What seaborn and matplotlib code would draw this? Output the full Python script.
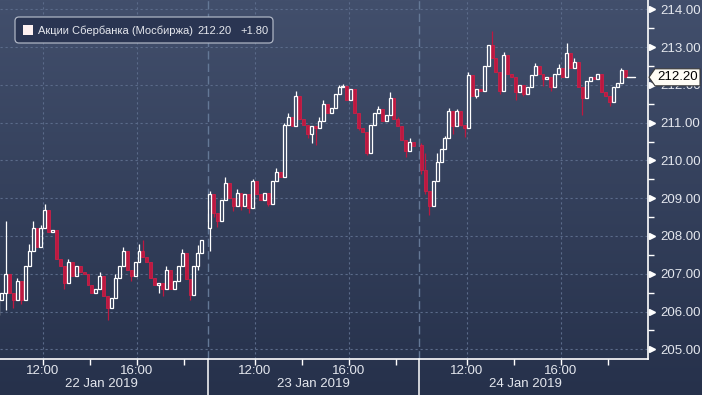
import numpy as np
import pandas as pd
import matplotlib
matplotlib.use("Agg")
import matplotlib.pyplot as plt
import matplotlib.transforms as mtransforms
from matplotlib.patches import FancyBboxPatch, Polygon, Rectangle
from matplotlib.colors import LinearSegmentedColormap
import seaborn as sns

# ---------------- data ----------------
dates = ["22 Jan 2019", "23 Jan 2019", "24 Jan 2019"]
time_labels = ["12:00", "16:00"]
y_ticks = [205, 206, 207, 208, 209, 210, 211, 212, 213, 214]
series_name = "Акции Сбербанка (Мосбиржа)"
last_price = 212.20
change = 1.80

day_open = [205.9, 208.2, 210.4]

closes_d1 = [206.3, 206.5, 207.0, 206.5, 206.3, 206.8, 206.3, 207.2, 207.6, 208.2,
             207.7, 208.2, 208.7, 208.1, 208.15, 207.4, 207.2, 206.75, 207.3, 206.95,
             207.2, 207.05, 207.0, 206.7, 206.5, 206.6, 206.95, 206.4, 206.1, 206.35,
             206.9, 207.2, 207.6, 207.1, 206.95, 207.3, 207.6, 207.45, 207.3, 206.9,
             206.7, 206.75, 206.6, 207.1, 206.6, 206.8, 207.2, 207.55, 206.85, 206.45,
             207.2, 207.55, 207.9]
highs_d1 = {2: 208.4, 5: 206.9, 8: 207.8, 9: 208.4, 11: 208.3, 12: 208.85, 13: 208.7,
            18: 207.4, 26: 207.05, 30: 207.0, 32: 207.7, 36: 207.8, 37: 207.9,
            43: 207.2, 47: 207.65, 51: 207.75}
lows_d1 = {0: 205.6, 2: 206.05, 4: 206.1, 6: 206.2, 17: 206.6, 28: 205.78, 34: 206.8,
           41: 206.5, 42: 206.4, 49: 206.3, 51: 207.1}

closes_d2 = [209.1, 208.6, 208.4, 208.95, 209.4, 209.0, 208.8, 209.15, 208.8, 209.1,
             208.75, 209.45, 209.1, 208.95, 209.15, 208.85, 209.45, 209.7, 209.55, 210.95,
             211.15, 210.9, 211.7, 211.1, 210.95, 210.7, 210.9, 210.85, 211.05, 211.5,
             211.25, 211.4, 211.75, 211.95, 211.97, 211.6, 211.9, 211.25, 210.85, 210.75,
             210.2, 210.95, 211.25, 211.35, 211.05, 211.2, 211.65, 211.1, 210.9, 210.55,
             210.25, 210.5, 210.37]
highs_d2 = {0: 209.2, 4: 209.55, 7: 209.25, 11: 209.5, 17: 209.8, 19: 211.0, 20: 211.25,
            22: 211.85, 28: 211.15, 29: 211.6, 33: 212.0, 34: 212.03, 43: 211.45,
            46: 211.8, 48: 211.15, 51: 210.6}
lows_d2 = {0: 207.6, 1: 208.5, 2: 208.25, 6: 208.65, 8: 208.7, 10: 208.6, 15: 208.8,
           25: 210.6, 26: 210.45, 27: 210.4, 38: 210.8, 40: 210.15, 50: 210.1}

closes_d3 = [209.75, 209.2, 208.8, 209.45, 209.95, 210.3, 210.6, 211.3, 210.9, 211.3,
             210.95, 210.85, 212.25, 211.7, 211.9, 211.85, 212.5, 213.05, 212.7, 212.35,
             211.85, 212.8, 212.3, 212.2, 211.8, 212.0, 211.75, 211.95, 212.25, 212.5,
             212.3, 212.15, 212.2, 211.95, 212.3, 212.45, 212.2, 212.85, 212.45, 212.6,
             211.95, 211.65, 212.1, 212.2, 212.15, 212.3, 211.8, 211.7, 211.55, 211.95,
             212.05, 212.4, 212.2]
highs_d3 = {0: 210.45, 1: 210.2, 4: 210.2, 6: 210.65, 7: 211.4, 9: 211.37, 12: 212.35,
            18: 213.42, 21: 212.87, 29: 212.57, 35: 212.55, 37: 213.12, 39: 212.7,
            51: 212.45}
lows_d3 = {0: 209.65, 1: 209.1, 2: 208.55, 8: 210.7, 10: 210.9, 11: 210.63, 14: 211.65,
           20: 211.75, 24: 211.6, 26: 211.7, 31: 211.98, 33: 211.85, 41: 211.2, 48: 211.45}

# build OHLC table (10-minute bars, x in trading hours since 22 Jan 10:00, 9h per day)
rows = []
for d, (cl, hi, lo) in enumerate([(closes_d1, highs_d1, lows_d1),
                                  (closes_d2, highs_d2, lows_d2),
                                  (closes_d3, highs_d3, lows_d3)]):
    prev = day_open[d]
    for i, c in enumerate(cl):
        o = prev
        rows.append(dict(t=d * 9 + (i + 0.5) / 6, open=o, close=c,
                         high=max(o, c, hi.get(i, c)), low=min(o, c, lo.get(i, c))))
        prev = c
df = pd.DataFrame(rows)

# ---------------- style ----------------
sns.set_theme(style="dark")
plt.rcParams['font.family'] = ['Liberation Sans', 'DejaVu Sans']

W, H = 702, 395
fig = plt.figure(figsize=(W / 100, H / 100), dpi=100)

bg = fig.add_axes([0, 0, 1, 1])
grad = np.linspace(0, 1, 256).reshape(-1, 1)
cmap = LinearSegmentedColormap.from_list('bg', ['#26314b', '#424f6c'])
bg.imshow(grad, aspect='auto', cmap=cmap, origin='lower', extent=[0, 1, 0, 1])
bg.set_axis_off()

ax = fig.add_axes([0, 36 / H, 648 / W, 359 / H])
ax.set_facecolor('none')
ax.set_xlim(0.178, 27.71)
ax.set_ylim(204.743, 214.246)

grid_c = '#5b6b8a'
for y in y_ticks:
    ax.axhline(y, color=grid_c, lw=0.8, ls=(0, (2, 2.5)), zorder=1)
major_x = [d * 9 + h for d in range(3) for h in (2, 6)]
minor_x = [d * 9 + h for d in range(3) for h in (4, 8)]
for x in major_x:
    ax.axvline(x, color=grid_c, lw=0.8, ls=(0, (2, 2.5)), zorder=1)
for s in (9, 18):
    ax.axvline(s, color='#647896', lw=1.0, ls=(0, (6, 3)), zorder=1)

# candles
red = '#bd1840'
w = 0.125
up = df[df.close >= df.open]
dn = df[df.close < df.open]
ax.vlines(dn.t, dn.low, dn.high, color=red, lw=0.9, zorder=3)
ax.bar(dn.t, dn.close - dn.open, bottom=dn.open, width=w, color=red,
       edgecolor='#c92148', lw=0.6, zorder=3)
ax.vlines(up.t, up.close, up.high, color='white', lw=0.9, zorder=4)
ax.vlines(up.t, up.low, up.open, color='white', lw=0.9, zorder=4)
ax.bar(up.t, (up.close - up.open).clip(lower=0.012), bottom=up.open, width=w,
       facecolor='none', edgecolor='white', lw=0.9, zorder=4)

t_last = df.t.iloc[-1]
ax.plot([t_last + 0.07, t_last + 0.4], [last_price, last_price], color='white', lw=1, zorder=4)

# axes / ticks
sns.despine(ax=ax, left=True, top=True, right=False, bottom=False)
for sp in ('right', 'bottom'):
    ax.spines[sp].set_color('white')
    ax.spines[sp].set_linewidth(1.2)
    ax.spines[sp].set_visible(True)

ax.yaxis.tick_right()
ax.set_yticks(y_ticks)
ax.set_yticklabels([f"{v:.2f}" for v in y_ticks])
ax.set_yticks([v + 0.5 for v in y_ticks[:-1]], minor=True)
ax.tick_params(axis='y', which='major', length=0, pad=9, labelsize=9.5,
               labelcolor='#e4e7ee', right=True, left=False)
ax.tick_params(axis='y', which='minor', length=4.5, width=1, color='white',
               direction='out', right=True, left=False)

ax.set_xticks(major_x)
ax.set_xticklabels(time_labels * 3)
ax.set_xticks(minor_x, minor=True)
ax.tick_params(axis='x', which='both', length=4, width=1, color='white',
               bottom=True, direction='out', pad=0.5, labelsize=9.5, labelcolor='#e4e7ee')

ytr = mtransforms.blended_transform_factory(ax.transAxes, ax.transData)
ax.plot([1.0065] * len(y_ticks), y_ticks, marker='>', ms=5, color='white', ls='none',
        transform=ytr, clip_on=False, zorder=5)

xtr = mtransforms.blended_transform_factory(ax.transData, ax.transAxes)
for s in (9, 18):
    ax.plot([s, s], [0, -0.11], color='white', lw=1.1, transform=xtr, clip_on=False)
for d, lab in enumerate(dates):
    ax.text(d * 9 + 4.5, -0.0710, lab, transform=xtr, ha='center', va='center',
            fontsize=9.5, color='#e4e7ee')

# legend box (inches coordinates)
tr = fig.dpi_scale_trans
fig.add_artist(FancyBboxPatch((0.15, (H - 43) / 100), 2.58, 0.26,
                              boxstyle='round,pad=0,rounding_size=0.04', transform=tr,
                              fc='#2a3552', ec='#aeb5c4', lw=0.9, zorder=5))
fig.add_artist(Rectangle((0.23, (H - 35) / 100), 0.10, 0.10, transform=tr,
                         fc='#fdf0f0', ec='none', zorder=6))
fig.text(38 / W, 1 - 30.5 / H, series_name, fontsize=8, color='#e6e8ee', va='center', zorder=6)
fig.text(197 / W, 1 - 30.5 / H, f"{last_price:.2f}", fontsize=8, color='#e6e8ee', va='center', zorder=6)
fig.text(240 / W, 1 - 30.5 / H, f"+{change:.2f}", fontsize=8, color='#e6e8ee', va='center', zorder=6)

# last price tag (covers part of the 212.00 label, as in the original)
yd = ax.transData.transform((0, last_price))[1] / 100
xa = 6.49
tag = Polygon([(xa, yd), (xa + 0.06, yd + 0.085), (7.0, yd + 0.085), (7.0, yd - 0.085),
               (xa + 0.06, yd - 0.085)], closed=True, transform=tr, fc='#fffdf6',
              ec='#3a3a3a', lw=0.8, zorder=7)
fig.add_artist(tag)
fig.text(6.775 / 7.02, yd / 3.95, f"{last_price:.2f}", fontsize=9.5, color='black',
         ha='center', va='center', zorder=8)

fig.savefig("out.png", dpi=100)
